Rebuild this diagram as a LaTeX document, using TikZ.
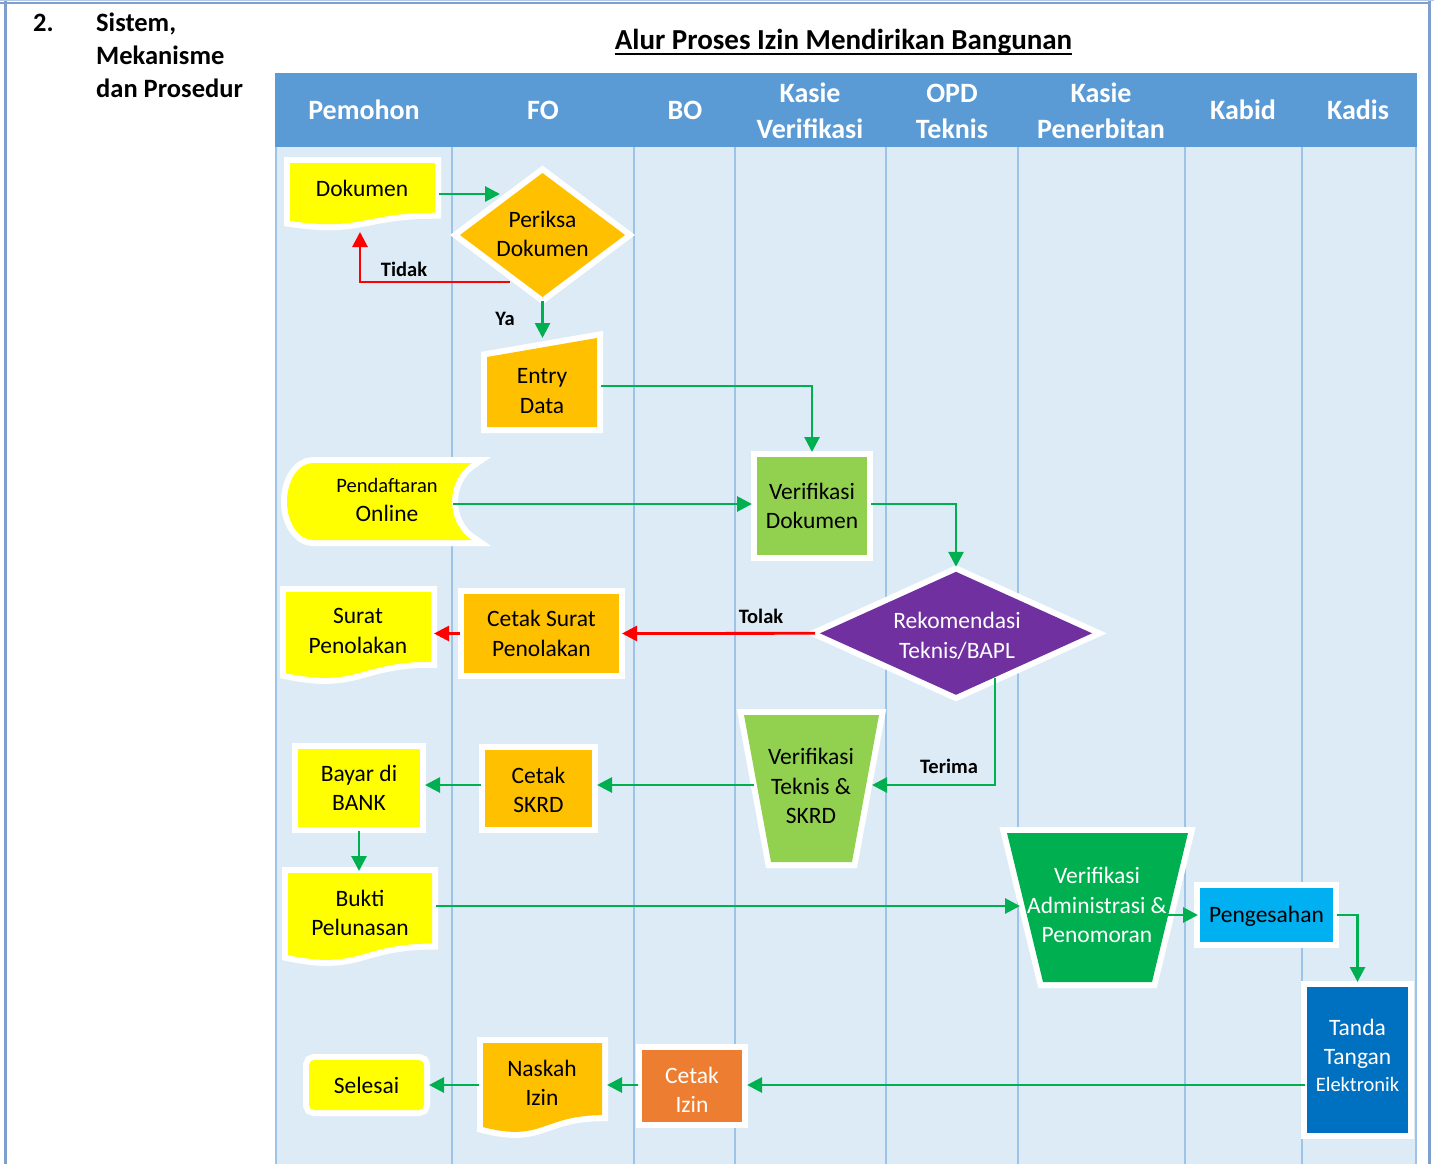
\documentclass[tikz,border=0pt]{standalone}
\usepackage{fontspec}
\setmainfont{Carlito}
\usetikzlibrary{arrows.meta,calc}
\definecolor{cYel}{HTML}{FFFF00}
\definecolor{cOra}{HTML}{FFC000}
\definecolor{cGrL}{HTML}{92D050}
\definecolor{cGrD}{HTML}{00B050}
\definecolor{cPur}{HTML}{7030A0}
\definecolor{cCya}{HTML}{00B0F0}
\definecolor{cBlu}{HTML}{0070C0}
\definecolor{cOrT}{HTML}{ED7D31}
\definecolor{cHead}{HTML}{5B9BD5}
\definecolor{cLane}{HTML}{DDEBF7}
\definecolor{cLine}{HTML}{9DC3E6}
\definecolor{cArr}{HTML}{00B050}
\definecolor{cRed}{HTML}{FF0000}
\definecolor{cFrame}{HTML}{7F9FCF}
\definecolor{cFrameL}{HTML}{B4C7E7}
\newcommand\flowdoc[5]{\path[rim,fill=#5] (#1,#2) -- (#3,#2) -- (#3,{#2+0.802*#4}) .. controls ({(#1+#3)/2},{#2+0.802*#4}) and ({(#1+#3)/2},{#2+1.1075*#4}) .. (#1,{#2+0.934*#4}) -- cycle;}
\begin{document}
\begin{tikzpicture}[x=1pt,y=-1pt,
 rim/.style={preaction={draw=white,line width=12pt,line join=miter}},
 bbx/.style={inner sep=0pt,outer sep=0pt},
 txt/.style={align=center,inner sep=0pt,font=\fontsize{23.5}{29.5}\selectfont},
 hdr/.style={align=center,inner sep=0pt,text=white,font=\fontsize{28}{36}\selectfont\bfseries},
 lbl/.style={inner sep=0pt,font=\fontsize{20.5}{24}\selectfont\bfseries},
 side/.style={anchor=base west,inner sep=0pt,font=\fontsize{26.5}{33}\selectfont\bfseries},
 ga/.style={draw=cArr,line width=2.8pt,-{Triangle[length=15pt,width=15pt]},shorten <=4pt,shorten >=5pt},
 ra/.style={ga,draw=cRed},
]
\fill[white] (0,0) rectangle (1434,1164);
\useasboundingbox (0,0) rectangle (1434,1164);
% frame
\fill[cFrameL] (0,0) rectangle (1434,1.5);
\draw[cFrame,line width=2.5pt] (0,2.8) -- (1431,2.8);
\draw[cFrame,line width=3pt] (5.5,1.5) -- (5.5,1164);
\draw[cFrame,line width=3pt] (1429,1.5) -- (1429,1164);
% left text and title
\node[side] (num) at (33,32) {2.};
\node[side] (s1) at (96,32) {Sistem,};
\node[side] (s2) at (96,65) {Mekanisme};
\node[side] (s3) at (96,97.5) {dan Prosedur};
\node[inner sep=0pt,anchor=base,font=\fontsize{29}{35}\selectfont\bfseries] (title) at (843.5,50) {Alur Proses Izin Mendirikan Bangunan};
\draw[line width=2.2pt] ([yshift=-4pt]title.base west) -- ([yshift=-4pt]title.base east);
% swimlanes
\fill[cHead] (275,73) rectangle (1417,147);
\fill[cLane] (276,147) rectangle (1416,1164);
\foreach \x in {276,452,634,735,886,1018,1185,1302,1416} \draw[cLine,line width=1.5pt] (\x,147) -- (\x,1164);
\node[hdr] (h1) at (364,110) {Pemohon};
\node[hdr] (h2) at (543,110) {FO};
\node[hdr] (h3) at (685,110) {BO};
\node[hdr] (h4) at (810,111) {Kasie\\Verifikasi};
\node[hdr] (h5) at (952,111) {OPD\\Teknis};
\node[hdr] (h6) at (1101,111) {Kasie\\Penerbitan};
\node[hdr] (h7) at (1243,110) {Kabid};
\node[hdr] (h8) at (1358,110) {Kadis};
% bounding nodes of drawn shapes
\node[bbx,minimum width=145pt,minimum height=62pt] (dok) at (362.5,194) {};
\node[bbx,minimum width=165pt,minimum height=124pt] (per) at (542.5,235) {};
\node[bbx,minimum width=110pt,minimum height=89pt] (entry) at (542,382.5) {};
\node[bbx,minimum width=185pt,minimum height=77pt] (pend) at (379.5,501.5) {};
\node[bbx,minimum width=272pt,minimum height=123pt] (rek) at (956,633.3) {};
\node[bbx,minimum width=145pt,minimum height=87pt] (surat) at (358.5,635.5) {};
\node[bbx,minimum width=135pt,minimum height=147pt] (vertek) at (811.5,788.5) {};
\node[bbx,minimum width=144pt,minimum height=88pt] (bukti) at (360,917) {};
\node[bbx,minimum width=181pt,minimum height=149pt] (veradm) at (1097.5,907.5) {};
\node[bbx,minimum width=119pt,minimum height=90pt] (naskah) at (542.5,1088) {};
% shapes
\flowdoc{290}{163}{435}{62}{cYel}
\path[rim,fill=cOra] (per.west) -- (per.north) -- (per.east) -- (per.south) -- cycle;
\path[rim,fill=cOra] (487,357) -- (597,338) -- (597,427) -- (487,427) -- cycle;
\path[rim,fill=cYel] (313,463) -- (472,463) .. controls (458,472) and (452,488) .. (452,501.5) .. controls (452,515) and (458,531) .. (472,540) -- (313,540) .. controls (298.64,540) and (287,522.76) .. (287,501.5) .. controls (287,480.24) and (298.64,463) .. (313,463) -- cycle;
\path[rim,fill=cPur] (rek.west) -- (rek.north) -- (rek.east) -- (rek.south) -- cycle;
\flowdoc{286}{592}{431}{87}{cYel}
\path[rim,fill=cGrL] (744,715) -- (879,715) -- (852,862) -- (771,862) -- cycle;
\flowdoc{288}{873}{432}{88}{cYel}
\path[rim,fill=cGrD] (1007,833) -- (1188,833) -- (1152,982) -- (1043,982) -- cycle;
\flowdoc{483}{1043}{602}{90}{cOra}
% rectangles
\node[rim,bbx,txt,fill=cGrL,minimum width=110pt,minimum height=98pt] (verdok) at (812,506) {Verifikasi\\Dokumen};
\node[rim,bbx,txt,fill=cOra,minimum width=155pt,minimum height=79pt] (cetaksurat) at (541.5,633.5) {Cetak Surat\\Penolakan};
\node[rim,bbx,txt,fill=cOra,minimum width=107pt,minimum height=77pt] (cetakskrd) at (538.5,788.5) {};
\node[rim,bbx,txt,fill=cYel,minimum width=122pt,minimum height=78pt] (bayar) at (359,788) {Bayar di\\BANK};
\node[rim,bbx,txt,fill=cCya,minimum width=133pt,minimum height=54pt] (peng) at (1266.5,915) {};
\node[rim,bbx,fill=cBlu,minimum width=101pt,minimum height=146pt] (tte) at (1357.5,1060) {};
\node[rim,bbx,fill=cOrT,minimum width=100pt,minimum height=72pt] (cetakizin) at (692,1086) {};
\node[rim,bbx,txt,fill=cYel,rounded corners=5pt,minimum width=115pt,minimum height=50pt] (selesai) at (366.5,1085) {Selesai};
% texts
\node[txt] (dokt) at (362,188) {Dokumen};
\node[txt] (pert) at (542.5,234) {Periksa\\Dokumen};
\node[txt] (entryt) at (542,391) {Entry\\Data};
\node[txt] (pendt) at (387,500) {\fontsize{20.5}{28}\selectfont Pendaftaran\\\fontsize{23.5}{28}\selectfont Online};
\node[txt,text=white] (rekt) at (957,636) {Rekomendasi\\Teknis/BAPL};
\node[txt] (suratt) at (358,631) {Surat\\Penolakan};
\node[txt] (vertekt) at (811,786) {Verifikasi\\Teknis \&\\SKRD};
\node[txt] (buktit) at (360,913) {Bukti\\Pelunasan};
\node[txt,text=white] (veradmt) at (1097,905) {Verifikasi\\Administrasi \&\\Penomoran};
\node[txt] (naskaht) at (542,1083) {Naskah\\Izin};
\node[txt] (cetakskrdt) at (538.5,790) {Cetak\\SKRD};
\node[txt] (pengt) at (1266.5,916) {Pengesahan};
\node[txt,text=white] (ttet) at (1357.5,1055) {Tanda\\Tangan\\[-3pt]\fontsize{20.5}{24}\selectfont Elektronik};
\node[txt,text=white] (cetakizint) at (692,1090) {Cetak\\Izin};
% labels
\node[lbl] (lTidak) at (404,269) {Tidak};
\node[lbl] (lYa) at (505,319) {Ya};
\node[lbl] (lTolak) at (761,616) {Tolak};
\node[lbl] (lTerima) at (949,766) {Terima};
% connectors
\coordinate (cTid) at (512,282);
\coordinate (cPend) at (453,504);
\coordinate (cTer) at (995,678);
\coordinate (cAdmL) at (1025,906);
\coordinate (cAdmR) at (1168,915);
\draw[ga] (dok.east) -- ++(70,0);
\draw[ra,shorten <=2pt,shorten >=7pt] (cTid) -| ([xshift=-2.5pt]dok.south);
\draw[ga,shorten >=0pt] (per.south) -- (per.south |- entry.north);
\draw[ga] ([yshift=-3.5pt]entry.east) -| (verdok.north);
\draw[ga,shorten <=0pt] (cPend) -- (cPend -| verdok.west);
\draw[ga] ([yshift=2pt]verdok.east) -| (rek.north);
\draw[ra,shorten <=0pt,shorten >=3pt] ([xshift=-5pt]rek.west) -- (cetaksurat.east);
\draw[ra,shorten <=0pt,shorten >=3pt] ([xshift=-4pt]cetaksurat.west) -- (cetaksurat.west -| surat.east);
\draw[ga,shorten <=0pt] (cTer) |- ([xshift=-12pt,yshift=3.5pt]vertek.east);
\draw[ga,shorten <=0pt] ([xshift=10pt,yshift=3.5pt]vertek.west) -- ([yshift=3.5pt]vertek.west -| cetakskrd.east);
\draw[ga] ([yshift=3.5pt]cetakskrd.west) -- ([yshift=3.5pt]cetakskrd.west -| bayar.east);
\draw[ga,shorten >=2pt] (bayar.south) -- (bayar.south |- bukti.north);
\draw[ga] ([yshift=11pt]bukti.east) -- (cAdmL);
\draw[ga,shorten <=0pt,shorten >=2pt] (cAdmR) -- (peng.west);
\draw[ga] (peng.east) -| (tte.north);
\draw[ga,shorten <=2pt] ([yshift=-25pt]tte.west) -- ([yshift=-25pt]tte.west -| cetakizin.east);
\draw[ga] ([yshift=1pt]cetakizin.west) -- ([yshift=1pt]cetakizin.west -| naskah.east);
\draw[ga] (selesai.east -| naskah.west) -- (selesai.east);
\end{tikzpicture}
\end{document}
